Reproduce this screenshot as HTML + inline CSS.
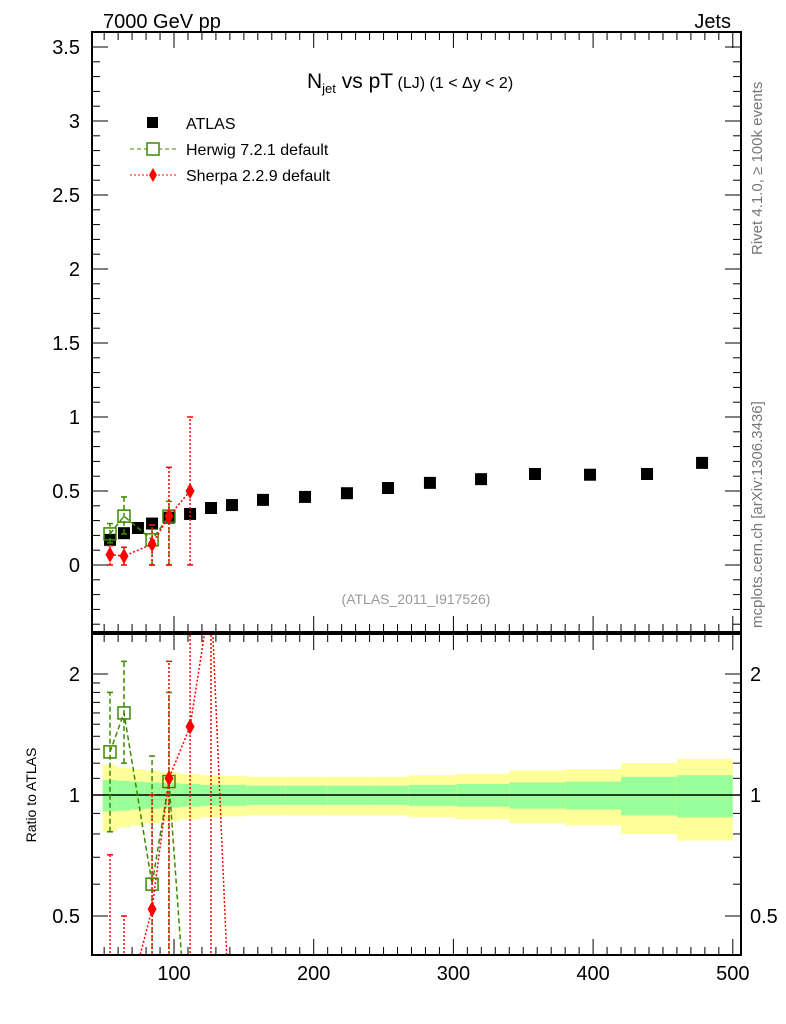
<!DOCTYPE html>
<html><head><meta charset="utf-8"><style>
html,body{margin:0;padding:0;background:#fff;overflow:hidden;width:786px;height:1024px}
svg{display:block}
svg text{font-family:"Liberation Sans",sans-serif}
</style></head><body>
<svg id="c" width="786" height="1024" xmlns="http://www.w3.org/2000/svg">
<defs>
<clipPath id="cm"><rect x="92" y="32" width="649" height="600"/></clipPath>
<clipPath id="cr"><rect x="92" y="634" width="649" height="321"/></clipPath>
</defs>
<g id="bands" clip-path="url(#cr)"></g>
<g id="marks"></g>
<rect x="92" y="32" width="649" height="600" fill="none" stroke="#000" stroke-width="2"/>
<rect x="92" y="634" width="649" height="321" fill="none" stroke="#000" stroke-width="2"/>
<g id="axes"></g>
<text x="103" y="28" font-size="20">7000 GeV pp</text>
<text x="731" y="28" font-size="20" text-anchor="end">Jets</text>
<text x="307" y="88" font-size="21">N<tspan font-size="13" dy="5">jet</tspan><tspan dy="-5"> vs pT</tspan><tspan font-size="16"> (LJ) (1 &lt; Δy &lt; 2)</tspan></text>
<g>
<rect x="147" y="117" width="11" height="11" fill="#000"/>
<text x="186" y="129" font-size="16">ATLAS</text>
<line x1="130" y1="149" x2="176" y2="149" stroke="#3a8a00" stroke-dasharray="4,3"/>
<rect x="147" y="143" width="12" height="12" fill="#fff" stroke="#3a8a00" stroke-width="1.5"/>
<text x="186" y="155" font-size="16">Herwig 7.2.1 default</text>
<line x1="130" y1="175" x2="176" y2="175" stroke="#f00" stroke-dasharray="2,2"/>
<path d="M153 168 L157 175 L153 182 L149 175 Z" fill="#f00"/>
<text x="186" y="181" font-size="16">Sherpa 2.2.9 default</text>
</g>
<text x="416" y="604" font-size="14" fill="#999" text-anchor="middle">(ATLAS_2011_I917526)</text>
<text transform="translate(762,255) rotate(-90)" font-size="15" fill="#777">Rivet 4.1.0, ≥ 100k events</text>
<text transform="translate(762,628) rotate(-90)" font-size="15" fill="#777">mcplots.cern.ch [arXiv:1306.3436]</text>
<text transform="translate(36,795) rotate(-90)" font-size="14" text-anchor="middle">Ratio to ATLAS</text>
</svg>
<script>
const xs = [54.2,64.2,74.2,84.3,96.4,111.5,126.5,141.5,163.7,193.8,223.8,253.2,283.2,319.8,358.4,397.8,438.6,478];
const atlasY = [0.17,0.215,0.25,0.28,0.32,0.345,0.385,0.405,0.44,0.46,0.485,0.52,0.555,0.58,0.615,0.61,0.615,0.69];
const bandEdges = [49,59,69,79,90,104,119,134,152,180,210,240,268,302,340,380,420,460,500];
const greenHalf = [0.09,0.085,0.08,0.075,0.07,0.065,0.06,0.06,0.055,0.055,0.055,0.055,0.06,0.065,0.075,0.08,0.11,0.12];
const yellowHalf = [0.19,0.17,0.16,0.15,0.14,0.13,0.12,0.115,0.11,0.11,0.11,0.11,0.12,0.13,0.15,0.16,0.2,0.23];
const hwX = [54.2,64.2,84.3,96.4];
const hwY = [0.21,0.33,0.17,0.33];
const hwLo = [0.15,0.21,0.0,0.0];
const hwHi = [0.28,0.46,0.27,0.43];
const hwRX = [54.2,64.2,84.3,96.4,111.5];
const hwR = [1.28,1.6,0.6,1.08,0.2];
const hwRLo = [0.81,1.2,0.3,0.3,0.1];
const hwRHi = [1.8,2.15,1.25,1.8,0.3];
const shX = [54.2,64.2,84.3,96.4,111.5];
const shY = [0.07,0.06,0.14,0.33,0.5];
const shLo = [0.0,0.0,0.0,0.0,0.0];
const shHi = [0.13,0.12,0.27,0.66,1.0];
const shRX = [54.2,64.2,84.3,96.4,111.5,126.5,141.5];
const shR = [0.38,0.28,0.52,1.1,1.48,3.2,0.2];
const shRLo = [0.1,0.1,0.1,0.1,0.1,0.1,0.1];
const shRHi = [0.71,0.5,1.0,2.15,3.0,3.0,0.3];
const yTicks = ["0","0.5","1","1.5","2","2.5","3","3.5"];
const xTicks = ["100","200","300","400","500"];
const rTicks = ["0.5","1","2"];

const NS="http://www.w3.org/2000/svg";
const X=v=>174+(v-100)*1.397;
const Y=v=>565-148*v;
const R=v=>795-121*Math.log2(v);
function mk(t,a,p){const e=document.createElementNS(NS,t);for(const k in a)e.setAttribute(k,a[k]);(p||document.getElementById('marks')).appendChild(e);return e;}
const bands=document.getElementById('bands'), axes=document.getElementById('axes'), marks=document.getElementById('marks');
for(let i=0;i<xs.length;i++){
  const x0=X(bandEdges[i]),x1=X(bandEdges[i+1]);
  let e=mk('rect',{x:x0,y:R(1+yellowHalf[i]),width:x1-x0,height:R(1-yellowHalf[i])-R(1+yellowHalf[i]),fill:'#ffff99'},bands);
  
  
  e=mk('rect',{x:x0,y:R(1+greenHalf[i]),width:x1-x0,height:R(1-greenHalf[i])-R(1+greenHalf[i]),fill:'#99ff99'},bands);
  
  
}
let l=mk('line',{x1:92,x2:741,y1:R(1),y2:R(1),stroke:'#000','stroke-width':1.5},bands);


for(let v=0;v<=3.6;v+=0.1){const y=Y(v);if(y<32)break;const maj=Math.abs(v*2-Math.round(v*2))<1e-6;const len=maj?16:8;
  mk('line',{x1:92,x2:92+len,y1:y,y2:y,stroke:'#000'},axes);mk('line',{x1:741,x2:741-len,y1:y,y2:y,stroke:'#000'},axes);}
for(let v=-0.4;v<0;v+=0.1){const y=Y(v);mk('line',{x1:92,x2:100,y1:y,y2:y,stroke:'#000'},axes);mk('line',{x1:741,x2:733,y1:y,y2:y,stroke:'#000'},axes);}
yTicks.forEach(t=>{const e=mk('text',{x:80,y:Y(+t)+7,'font-size':20,'text-anchor':'end'},axes);e.textContent=t;
  
  });
for(let v=50;v<=500;v+=10){const x=X(v);const maj=v%100==0;const len=maj?16:8;
  [[32,1],[632,-1],[634,1],[955,-1]].forEach(([y0,d])=>mk('line',{x1:x,x2:x,y1:y0,y2:y0+d*len,stroke:'#000'},axes));}
xTicks.forEach(t=>{const e=mk('text',{x:X(+t),y:980,'font-size':20,'text-anchor':'middle'},axes);e.textContent=t;
  
  });
[0.4,0.5,0.6,0.7,0.8,0.9,1,2].forEach(v=>{const y=R(v);const maj=(v==0.5||v==1||v==2);const len=maj?16:8;
  mk('line',{x1:92,x2:92+len,y1:y,y2:y,stroke:'#000'},axes);mk('line',{x1:741,x2:741-len,y1:y,y2:y,stroke:'#000'},axes);});
for(let v=1.1;v<2;v+=0.1){const y=R(v);mk('line',{x1:92,x2:100,y1:y,y2:y,stroke:'#000'},axes);mk('line',{x1:741,x2:733,y1:y,y2:y,stroke:'#000'},axes);}
rTicks.forEach(t=>{let e=mk('text',{x:80,y:R(+t)+7,'font-size':20,'text-anchor':'end'},axes);e.textContent=t;
  
  
  e=mk('text',{x:750,y:R(+t)+7,'font-size':20},axes);e.textContent=t;
  
  });
function series(xa,ya,lo,hi,fy,col,dash,shape,clip,name){
  const g=mk('g',{'clip-path':'url(#'+clip+')'});
  
  
  mk('polyline',{points:xa.map((x,i)=>X(x)+','+fy(ya[i])).join(' '),fill:'none',stroke:col,'stroke-width':1.5,'stroke-dasharray':dash},g);
  xa.forEach((x,i)=>{const px=X(x);
    mk('line',{x1:px,x2:px,y1:fy(lo[i]),y2:fy(hi[i]),stroke:col,'stroke-width':1.5,'stroke-dasharray':dash},g);
    mk('line',{x1:px-3,x2:px+3,y1:fy(hi[i]),y2:fy(hi[i]),stroke:col,'stroke-width':1.5},g);
    mk('line',{x1:px-3,x2:px+3,y1:fy(lo[i]),y2:fy(lo[i]),stroke:col,'stroke-width':1.5},g);
    const py=fy(ya[i]);let m;
    if(shape=='sq')m=mk('rect',{x:px-6,y:py-6,width:12,height:12,fill:'none',stroke:col,'stroke-width':1.5},g);
    else m=mk('path',{d:`M${px} ${py-8}L${px+4.5} ${py}L${px} ${py+8}L${px-4.5} ${py}Z`,fill:col},g);
    
    
  });
}
xs.forEach((x,i)=>{const r=mk('rect',{x:X(x)-6,y:Y(atlasY[i])-6,width:12,height:12,fill:'#000'});
  
  });
series(hwX,hwY,hwLo,hwHi,Y,'#3a8a00','5,3','sq','cm','herwig-main');
series(shX,shY,shLo,shHi,Y,'#f00','2,2','di','cm','sherpa-main');
series(hwRX,hwR,hwRLo,hwRHi,R,'#3a8a00','5,3','sq','cr','herwig-ratio');
series(shRX,shR,shRLo,shRHi,R,'#f00','2,2','di','cr','sherpa-ratio');
</script>
</body></html>
